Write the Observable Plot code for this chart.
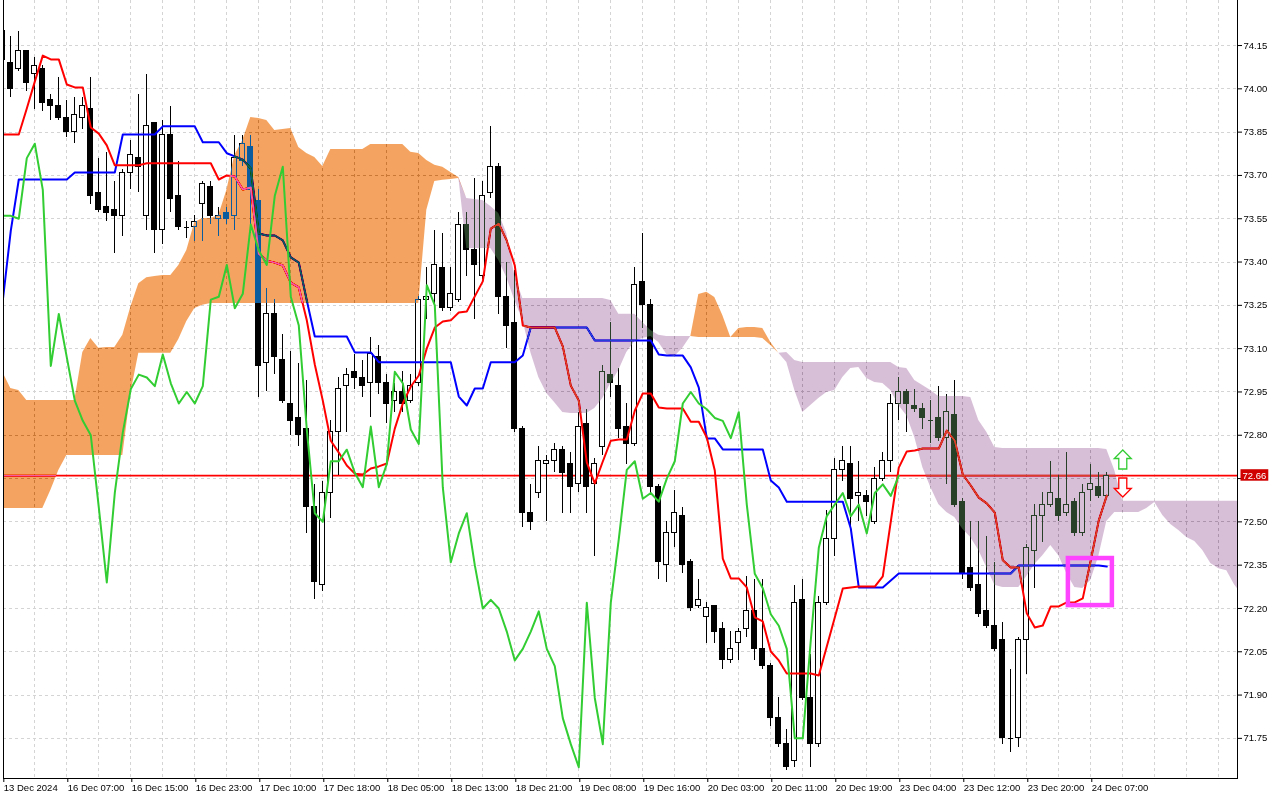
<!DOCTYPE html>
<html><head><meta charset="utf-8">
<script src="https://cdn.jsdelivr.net/npm/d3@7"></script>
<script src="https://cdn.jsdelivr.net/npm/@observablehq/plot@0.6"></script>
<style>
html,body{margin:0;padding:0;background:#fff;}
#chart{width:1280px;height:800px;overflow:hidden;}
</style></head><body><div id="chart"></div>
<script>
// ---- tick labels ----
const xTickBars = [0,8,16,24,32,40,48,56,64,72,80,88,96,104,112,120,128,136];
const xTickLabels = ["13 Dec 2024","16 Dec 07:00","16 Dec 15:00","16 Dec 23:00","17 Dec 10:00","17 Dec 18:00","18 Dec 05:00","18 Dec 13:00","18 Dec 21:00","19 Dec 08:00","19 Dec 16:00","20 Dec 03:00","20 Dec 11:00","20 Dec 19:00","23 Dec 04:00","23 Dec 12:00","23 Dec 20:00","24 Dec 07:00"];
const yTicks = [71.75,71.90,72.05,72.20,72.35,72.50,72.65,72.80,72.95,73.10,73.25,73.40,73.55,73.70,73.85,74.00,74.15];

// ---- hourly candles (bar index = position in array) ----
const open  = [74.20,74.09,74.07,74.13,74.05,74.07,73.96,73.94,73.90,73.85,73.90,73.93,73.64,73.59,73.58,73.56,73.71,73.76,73.56,73.88,73.51,73.84,73.63,73.52,73.52,73.60,73.66,73.55,73.57,73.56,73.75,73.80,73.61,73.05,73.22,73.06,72.91,72.86,72.82,72.55,72.28,72.60,72.81,72.97,73.02,73.00,72.98,73.07,72.98,72.92,72.95,72.92,72.98,73.27,73.29,73.38,73.24,73.27,73.53,73.44,73.35,73.64,73.73,73.28,73.19,72.82,72.53,72.60,72.70,72.71,72.75,72.70,72.63,72.84,72.63,72.76,73.01,72.97,72.83,72.77,73.33,73.25,72.62,72.35,72.46,72.52,72.36,72.21,72.17,72.21,72.13,72.02,72.08,72.13,72.19,72.06,72.00,71.82,71.73,71.67,72.23,71.89,71.73,72.22,72.44,72.68,72.70,72.59,72.59,72.50,72.65,72.71,72.91,72.95,72.90,72.89,72.85,72.86,72.79,72.87,72.57,72.34,72.28,72.19,72.14,72.09,71.75,71.75,72.09,72.40,72.52,72.56,72.58,72.53,72.57,72.46,72.61,72.62,72.59];
const high  = [74.21,74.18,74.20,74.13,74.11,74.08,73.98,74.04,73.96,73.97,73.97,74.04,73.76,73.78,73.68,73.72,73.82,73.98,74.05,73.88,73.89,73.94,73.75,73.54,73.56,73.68,73.68,73.59,73.59,73.84,73.84,73.84,73.65,73.31,73.27,73.15,73.09,73.05,72.99,72.63,72.64,72.85,73.00,73.03,73.08,73.06,73.14,73.11,73.01,72.98,73.02,73.01,73.28,73.38,73.51,73.50,73.38,73.57,73.57,73.69,73.68,73.87,73.74,73.40,73.37,72.83,72.63,72.76,72.73,72.77,72.76,72.74,72.88,72.89,72.72,73.04,73.19,73.03,72.91,73.38,73.50,73.27,72.63,72.50,72.61,72.55,72.37,72.30,72.22,72.21,72.15,72.12,72.13,72.31,72.30,72.30,72.01,71.89,71.78,72.28,72.30,72.04,72.24,72.54,72.72,72.76,72.76,72.71,72.61,72.69,72.74,72.94,73.00,72.96,72.96,72.91,72.92,72.97,72.94,72.99,72.58,72.50,72.50,72.45,72.36,72.15,71.99,72.10,72.42,72.56,72.60,72.71,72.66,72.74,72.58,72.63,72.70,72.67,72.67];
const low   = [74.08,73.97,74.06,73.99,73.93,73.92,73.89,73.89,73.83,73.81,73.86,73.60,73.57,73.54,73.43,73.49,73.65,73.64,73.51,73.43,73.46,73.57,73.51,73.48,73.47,73.47,73.53,73.49,73.53,73.51,73.73,73.50,72.93,72.95,73.01,72.91,72.80,72.76,72.46,72.23,72.26,72.51,72.66,72.81,72.96,72.93,72.86,72.94,72.84,72.88,72.88,72.91,72.97,73.20,73.24,73.23,73.23,73.26,73.35,73.20,73.34,73.62,73.22,73.10,72.81,72.48,72.47,72.58,72.50,72.67,72.53,72.53,72.60,72.53,72.38,72.73,72.93,72.79,72.70,72.76,73.17,72.59,72.30,72.29,72.41,72.32,72.19,72.20,72.08,72.08,71.99,72.01,72.02,72.10,72.02,71.99,71.79,71.72,71.64,71.65,71.88,71.65,71.72,72.21,72.38,72.64,72.48,72.50,72.52,72.49,72.64,72.67,72.85,72.81,72.88,72.82,72.77,72.78,72.63,72.55,72.30,72.26,72.17,72.13,72.05,71.73,71.70,71.72,71.97,72.27,72.43,72.55,72.50,72.52,72.45,72.45,72.57,72.58,72.58];
const close = [74.10,74.00,74.13,74.02,74.08,73.95,73.94,73.90,73.85,73.91,73.94,73.63,73.58,73.57,73.56,73.71,73.77,73.73,73.87,73.51,73.84,73.62,73.52,73.52,73.54,73.67,73.56,73.56,73.55,73.76,73.81,73.65,73.04,73.22,73.07,72.92,72.85,72.80,72.55,72.29,72.60,72.81,72.96,73.01,73.00,72.97,73.08,72.98,72.91,72.95,72.91,72.97,73.27,73.28,73.39,73.24,73.29,73.53,73.44,73.39,73.63,73.73,73.28,73.18,72.82,72.53,72.50,72.71,72.71,72.75,72.67,72.62,72.83,72.62,72.70,73.02,72.98,72.82,72.77,73.32,73.25,72.62,72.36,72.46,72.53,72.35,72.20,72.23,72.20,72.12,72.02,72.06,72.12,72.19,72.06,72.00,71.82,71.73,71.65,72.22,71.89,71.73,72.22,72.44,72.68,72.71,72.58,72.60,72.57,72.65,72.71,72.91,72.95,72.91,72.89,72.86,72.85,72.79,72.88,72.56,72.32,72.27,72.18,72.14,72.06,71.75,71.75,72.09,72.41,72.52,72.56,72.60,72.52,72.56,72.46,72.60,72.63,72.59,72.66];

// ---- Ichimoku lines ----
const tenkan = [73.842,73.842,73.842,73.932,74.025,74.115,74.102,74.102,74.015,74.005,74.005,73.866,73.845,73.804,73.735,73.735,73.735,73.735,73.742,73.742,73.742,73.742,73.742,73.742,73.742,73.742,73.742,73.686,73.700,73.696,73.651,73.658,73.429,73.405,73.398,73.388,73.329,73.312,73.198,73.045,72.920,72.781,72.740,72.695,72.667,72.664,72.685,72.692,72.702,72.823,72.910,72.969,73.007,73.101,73.173,73.194,73.198,73.225,73.229,73.281,73.333,73.516,73.533,73.474,73.388,73.180,73.173,73.173,73.173,73.173,73.108,72.972,72.920,72.706,72.633,72.709,72.781,72.785,72.785,72.885,72.945,72.945,72.896,72.893,72.893,72.893,72.847,72.847,72.792,72.678,72.373,72.304,72.304,72.273,72.169,72.155,72.051,72.020,71.975,71.975,71.975,71.975,71.968,72.068,72.169,72.269,72.273,72.276,72.276,72.276,72.311,72.501,72.688,72.744,72.747,72.754,72.754,72.754,72.816,72.781,72.664,72.626,72.584,72.564,72.532,72.367,72.342,72.342,72.183,72.134,72.141,72.207,72.207,72.221,72.221,72.235,72.367,72.505,72.591];
const kijun = [73.267,73.509,73.686,73.686,73.686,73.686,73.686,73.686,73.686,73.710,73.710,73.710,73.710,73.710,73.710,73.842,73.842,73.842,73.842,73.842,73.870,73.870,73.870,73.870,73.870,73.815,73.815,73.815,73.777,73.766,73.755,73.724,73.499,73.492,73.492,73.475,73.416,73.398,73.267,73.142,73.142,73.142,73.142,73.142,73.087,73.087,73.087,73.053,73.053,73.053,73.053,73.053,73.053,73.053,73.053,73.053,73.053,72.934,72.903,72.962,72.962,73.053,73.053,73.053,73.053,73.076,73.173,73.173,73.173,73.173,73.173,73.173,73.173,73.173,73.128,73.128,73.128,73.128,73.128,73.128,73.128,73.128,73.080,73.076,73.076,73.076,73.035,72.965,72.789,72.789,72.751,72.751,72.751,72.751,72.751,72.751,72.643,72.619,72.570,72.570,72.570,72.570,72.570,72.570,72.570,72.570,72.477,72.273,72.273,72.273,72.273,72.297,72.321,72.321,72.321,72.321,72.321,72.321,72.321,72.321,72.321,72.321,72.321,72.321,72.321,72.321,72.321,72.349,72.349,72.349,72.349,72.349,72.349,72.349,72.349,72.349,72.349,72.349,72.345];
// Senkou spans (already shifted 26 bars ahead, bar 0 .. 155)
const spanA = [73.018,72.962,72.955,72.920,72.920,72.920,72.920,72.920,72.920,72.920,73.087,73.135,73.101,73.104,73.104,73.146,73.243,73.325,73.346,73.350,73.353,73.353,73.388,73.440,73.537,73.551,73.551,73.561,73.648,73.769,73.821,73.901,73.897,73.890,73.856,73.859,73.863,73.797,73.776,73.762,73.731,73.790,73.790,73.790,73.790,73.790,73.807,73.807,73.807,73.807,73.807,73.780,73.776,73.752,73.735,73.728,73.710,73.693,73.447,73.447,73.447,73.447,73.405,73.346,73.267,73.198,73.087,73.000,72.945,72.913,72.879,72.875,72.875,72.875,72.893,72.927,72.979,73.024,73.087,73.125,73.135,73.142,73.121,73.080,73.073,73.101,73.142,73.288,73.295,73.277,73.215,73.139,73.170,73.173,73.173,73.170,73.121,73.084,73.052,72.955,72.879,72.903,72.927,72.948,72.955,73.000,73.031,73.035,72.997,72.983,72.979,72.955,72.903,72.868,72.792,72.688,72.619,72.560,72.532,72.515,72.474,72.446,72.401,72.342,72.280,72.273,72.273,72.273,72.311,72.352,72.383,72.418,72.383,72.321,72.273,72.269,72.297,72.380,72.501,72.532,72.532,72.532,72.532,72.546,72.567,72.522,72.491,72.470,72.446,72.432,72.401,72.356,72.338,72.331,72.280,72.245];
const spanB = [72.546,72.546,72.546,72.546,72.546,72.546,72.609,72.678,72.730,72.730,72.730,72.730,72.730,72.730,72.730,72.730,72.945,73.084,73.084,73.084,73.084,73.084,73.132,73.194,73.239,73.250,73.256,73.256,73.256,73.256,73.256,73.256,73.256,73.256,73.256,73.256,73.256,73.256,73.256,73.256,73.256,73.256,73.256,73.256,73.256,73.256,73.256,73.256,73.256,73.256,73.256,73.256,73.256,73.579,73.679,73.683,73.686,73.689,73.620,73.617,73.613,73.592,73.568,73.499,73.353,73.274,73.274,73.274,73.274,73.274,73.274,73.274,73.274,73.274,73.274,73.274,73.267,73.219,73.219,73.219,73.191,73.163,73.146,73.142,73.142,73.142,73.142,73.139,73.139,73.139,73.139,73.139,73.139,73.139,73.139,73.135,73.111,73.084,73.087,73.059,73.052,73.052,73.052,73.052,73.052,73.052,73.052,73.052,73.052,73.052,73.052,73.052,73.035,73.031,72.990,72.972,72.955,72.934,72.934,72.934,72.934,72.931,72.851,72.810,72.758,72.754,72.754,72.754,72.754,72.754,72.754,72.754,72.754,72.754,72.754,72.754,72.754,72.754,72.751,72.678,72.571,72.571,72.571,72.571,72.571,72.571,72.571,72.571,72.571,72.571,72.571,72.571,72.571,72.571,72.571,72.571];
const chikouShift = 26;

// ---- annotations ----
const highlightBox = [{bar1: 133.2, bar2: 138.7, low: 72.21, high: 72.373}];
const signalArrows = [{bar: 140, price: 72.716, dir: "up"}, {bar: 140, price: 72.619, dir: "down"}];

// ---- derived tables ----
const candles = open.map((o, i) => ({i, open: o, high: high[i], low: low[i], close: close[i]}));
const dojis = candles.filter(d => d.open === d.close);
const cloud = spanA.map((a, i) => ({i, a, b: spanB[i]}));
const chikou = close.map((c, i) => ({i: i - chikouShift, c})).filter(d => d.i >= 0);
const lastClose = close[close.length - 1];
const labelByBar = new Map(xTickBars.map((b, k) => [b, xTickLabels[k]]));
const gridBars = d3.range(0, 160, 4);

// hollow arrow symbols (unit shape, scaled by the dot size)
function arrowSymbol(dir) {
  return {draw(ctx, size) {
    const s = Math.sqrt(size / Math.PI) / 9.5 * dir;
    const pts = [[0,-9.5],[8.5,-1],[4,-1],[4,9.5],[-4,9.5],[-4,-1],[-8.5,-1]];
    pts.forEach(([px, py], k) => k ? ctx.lineTo(px * Math.abs(s), py * s) : ctx.moveTo(px * Math.abs(s), py * s));
    ctx.closePath();
  }};
}

const chart = Plot.plot({
  width: 1280, height: 800,
  marginLeft: 3, marginRight: 43, marginTop: 0, marginBottom: 22,
  x: {domain: [0.0875, 154.34]},
  y: {domain: [71.611, 74.306]},
  style: {fontFamily: "Liberation Sans, Arial, sans-serif", fontSize: "9.5px", color: "black", background: "white"},
  marks: [
    Plot.frame({fill: "white", stroke: "none"}),
    Plot.gridX(gridBars, {stroke: "#d4d4d4", strokeOpacity: 1, strokeDasharray: "3,3", clip: true, shapeRendering: "crispEdges"}),
    Plot.gridY(yTicks, {stroke: "#d4d4d4", strokeOpacity: 1, strokeDasharray: "3,3", shapeRendering: "crispEdges"}),
    Plot.ruleY([lastClose], {stroke: "#ff0000", strokeWidth: 1.6}),
    // candles
    Plot.ruleX(candles, {x: "i", y1: "low", y2: "high", stroke: "black", strokeWidth: 1, clip: true, shapeRendering: "crispEdges"}),
    Plot.rect(candles, {x1: d => d.i - 0.29, x2: d => d.i + 0.29, y1: "open", y2: "close",
      fill: d => d.close >= d.open ? "white" : "black", stroke: "black", strokeWidth: 1, clip: true, shapeRendering: "crispEdges"}),
    Plot.ruleY(dojis, {y: "close", x1: d => d.i - 0.32, x2: d => d.i + 0.32, stroke: "black", strokeWidth: 1, clip: true, shapeRendering: "crispEdges"}),
    // Kijun / Tenkan
    Plot.line(kijun, {x: (d, i) => i, y: d => d, stroke: "#0000ff", strokeWidth: 2, clip: true}),
    Plot.line(tenkan, {x: (d, i) => i, y: d => d, stroke: "#ff0000", strokeWidth: 2, clip: true}),
    // Kumo (inverted colours, difference blending applied below = XOR look)
    Plot.areaY(cloud, {x: "i", y1: "b", y2: d => Math.max(d.a, d.b), fill: "#0b5b9f", clip: true}),
    Plot.areaY(cloud, {x: "i", y1: "a", y2: d => Math.max(d.a, d.b), fill: "#274027", clip: true}),
    // Chikou
    Plot.line(chikou, {x: "i", y: "c", stroke: "#32cd32", strokeWidth: 2, clip: true}),
    // annotations
    Plot.rect(highlightBox, {x1: "bar1", x2: "bar2", y1: "low", y2: "high", fill: "none", stroke: "#ff44ff", strokeWidth: 4.5}),
    Plot.dot(signalArrows.filter(d => d.dir === "up"), {x: "bar", y: "price", r: 9.5, symbol: arrowSymbol(1), fill: "white", stroke: "#33cc33", strokeWidth: 1.3}),
    Plot.dot(signalArrows.filter(d => d.dir === "down"), {x: "bar", y: "price", r: 9.5, symbol: arrowSymbol(-1), fill: "white", stroke: "#ff0000", strokeWidth: 1.3}),
    // frame borders
    Plot.frame({anchor: "left", stroke: "black"}),
    Plot.frame({anchor: "right", stroke: "black"}),
    Plot.frame({anchor: "bottom", stroke: "black"}),
    // axes
    Plot.axisX(xTickBars, {anchor: "bottom", tickSize: 4, tickPadding: 2, textAnchor: "start", dx: 1,
      tickFormat: d => labelByBar.get(d), label: null, stroke: "black"}),
    Plot.axisY(yTicks, {anchor: "right", tickSize: 4, tickPadding: 2,
      tickFormat: d => Math.abs(d - lastClose) < 0.03 ? "" : d3.format(".2f")(d), label: null, stroke: "black"}),
    Plot.text([lastClose], {y: d => d, frameAnchor: "right", textAnchor: "start", dx: 5, text: d => d.toFixed(2), fill: "white"})
  ]
});
document.getElementById("chart").append(chart);

// apply difference blending to the whole cloud groups (clip-path groups are isolated)
for (const el of chart.querySelectorAll("[fill]")) {
  const f = (el.getAttribute("fill") || "").toLowerCase();
  if (f === "#0b5b9f" || f === "#274027") {
    let g = el;
    while (g.parentNode && g.parentNode !== chart) g = g.parentNode;
    g.style.mixBlendMode = "difference";
  }
}
// red background box for the current price label
const lbl = lastClose.toFixed(2);
for (const t of chart.querySelectorAll("text")) {
  if (t.textContent === lbl) {
    const bb = t.getBBox();
    const r = document.createElementNS("http://www.w3.org/2000/svg", "rect");
    r.setAttribute("x", bb.x - 2); r.setAttribute("y", bb.y - 0.5);
    r.setAttribute("width", bb.width + 4); r.setAttribute("height", bb.height + 0.5);
    r.setAttribute("fill", "#d00000");
    if (t.getAttribute("transform")) r.setAttribute("transform", t.getAttribute("transform"));
    t.parentNode.insertBefore(r, t);
  }
}
</script></body></html>
